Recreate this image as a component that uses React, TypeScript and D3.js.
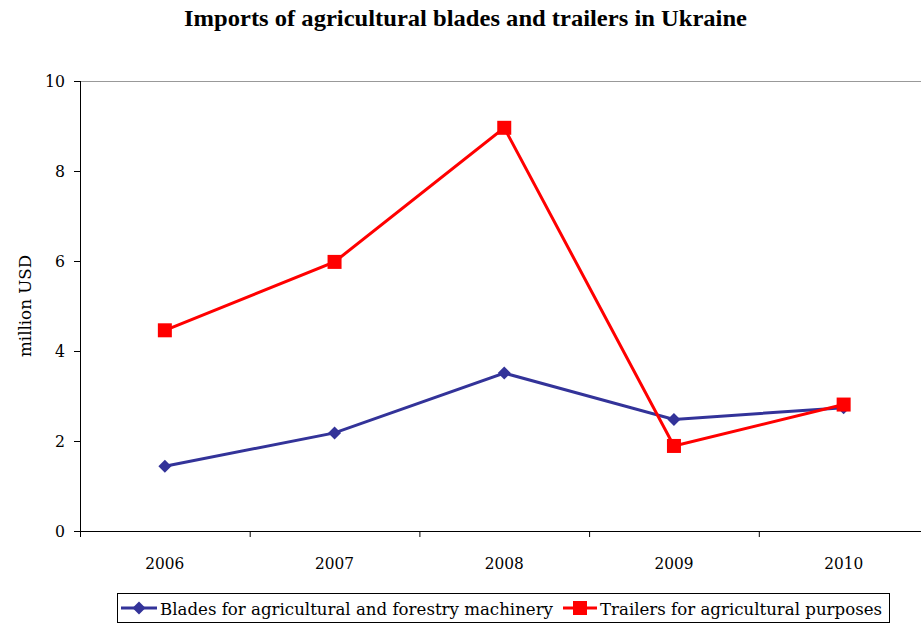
import React from "react";
import * as d3 from "d3";

const years = ["2006", "2007", "2008", "2009", "2010"];
const blades = [1.44, 2.18, 3.51, 2.48, 2.74];
const trailers = [4.46, 5.98, 8.96, 1.89, 2.81];
const yTicks = [0, 2, 4, 6, 8, 10];

const W = 921, H = 626;
const left = 80, right = 928.5, top = 81, bottom = 531;
const serif = { fontFamily: "DejaVu Serif" } as React.CSSProperties;
const serifBold = { fontFamily: "Liberation Serif" } as React.CSSProperties;

export default function App() {
  const x = d3.scaleBand<string>().domain(years).range([left, right]);
  const y = d3.scaleLinear().domain([0, 10]).range([bottom, top]);
  const cx = (d: string) => (x(d) as number) + x.bandwidth() / 2;
  const line = d3.line<number>().x((_, i) => cx(years[i])).y((v) => y(v));
  const diamond = (px: number, py: number, r: number) =>
    `M${px},${py - r}L${px + r},${py}L${px},${py + r}L${px - r},${py}Z`;

  return (
    <svg width={W} height={H} style={{ position: "absolute", left: 0, top: 0, background: "#fff" }}>
      <rect x={0} y={0} width={W} height={H} fill="#fff" />
      <text x={184} y={26} style={serifBold} fontWeight="bold" fontSize={24} textLength={563} lengthAdjust="spacingAndGlyphs">
        Imports of agricultural blades and trailers in Ukraine
      </text>
      <line x1={left} x2={W} y1={top + 0.5} y2={top + 0.5} stroke="#999" strokeWidth={1} />
      <line x1={left + 0.5} x2={left + 0.5} y1={top} y2={bottom} stroke="#000" strokeWidth={1} />
      <line x1={left - 6} x2={W} y1={bottom + 0.5} y2={bottom + 0.5} stroke="#000" strokeWidth={1} />
      {yTicks.map((t) => (
        <g key={t}>
          <line x1={left - 6} x2={left} y1={y(t) + 0.5} y2={y(t) + 0.5} stroke="#000" />
          <text x={65} y={y(t) + 6} textAnchor="end" style={serif} fontSize={17}
            textLength={t >= 10 ? 20 : 10} lengthAdjust="spacingAndGlyphs">{t}</text>
        </g>
      ))}
      {years.map((yr) => (
        <g key={yr}>
          <line x1={(x(yr) as number) + 0.5} x2={(x(yr) as number) + 0.5} y1={bottom} y2={bottom + 6} stroke="#000" />
          <text x={cx(yr) - 19.5} y={569} style={serif} fontSize={17} textLength={39} lengthAdjust="spacingAndGlyphs">{yr}</text>
        </g>
      ))}
      <text transform={`translate(31,357) rotate(-90)`} style={serif} fontSize={17} textLength={102} lengthAdjust="spacingAndGlyphs">
        million USD
      </text>
      <path d={line(blades) || ""} fill="none" stroke="#333399" strokeWidth={3} />
      {blades.map((v, i) => (
        <path key={i} d={diamond(cx(years[i]), y(v), 6.5)} fill="#333399" />
      ))}
      <path d={line(trailers) || ""} fill="none" stroke="#ff0000" strokeWidth={3} />
      {trailers.map((v, i) => (
        <rect key={i} x={cx(years[i]) - 7} y={y(v) - 7} width={14} height={14} fill="#ff0000" />
      ))}
      <rect x={117.5} y={593.5} width={772} height={29} fill="#fff" stroke="#000" />
      <line x1={121} x2={157} y1={608} y2={608} stroke="#333399" strokeWidth={3} />
      <path d={diamond(139, 608, 6.5)} fill="#333399" />
      <text x={160} y={615} style={serif} fontSize={17} textLength={393} lengthAdjust="spacingAndGlyphs">
        Blades for agricultural and forestry machinery
      </text>
      <line x1={563} x2={597} y1={608} y2={608} stroke="#ff0000" strokeWidth={3} />
      <rect x={573} y={601} width={14} height={14} fill="#ff0000" />
      <text x={600} y={615} style={serif} fontSize={17} textLength={282} lengthAdjust="spacingAndGlyphs">
        Trailers for agricultural purposes
      </text>
    </svg>
  );
}
